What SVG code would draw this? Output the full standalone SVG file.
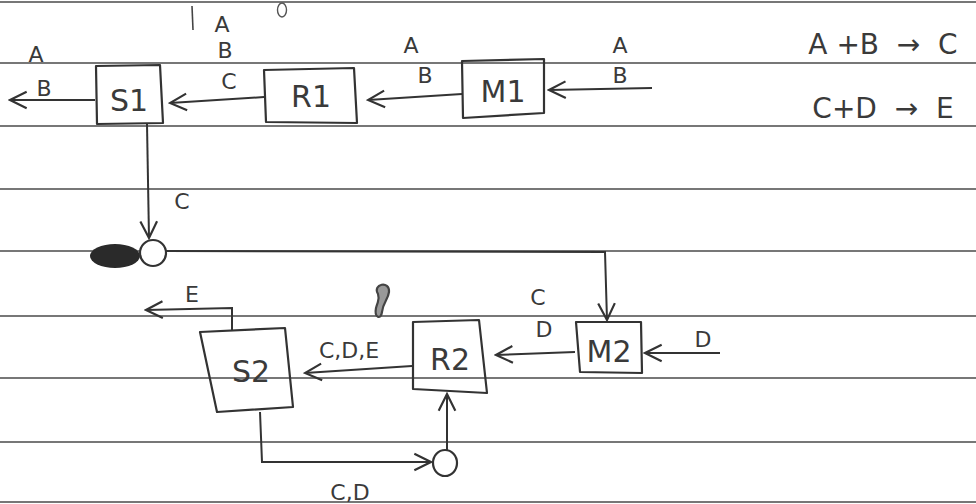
<svg xmlns="http://www.w3.org/2000/svg" width="976" height="504" viewBox="0 0 976 504">
<style>
.paper{stroke:#4a4a4a;stroke-width:1.6;fill:none}
.node{fill:none;stroke:#333;stroke-width:2.2;stroke-linejoin:round}
.edge{fill:none;stroke:#333;stroke-width:2}
.lbl{font-family:"DejaVu Sans","Liberation Sans",sans-serif;fill:#3a3a3a;text-anchor:middle}
.nl{font-size:30px}
.el{font-size:22px}
.eq{font-size:28px;white-space:pre}
</style>
<defs>
<marker id="ah" viewBox="0 0 12 12" refX="11" refY="6" markerWidth="20" markerHeight="20" markerUnits="userSpaceOnUse" orient="auto">
<path d="M1,1 L11,6 L1,11" fill="none" stroke="#333" stroke-width="1.3"/>
</marker>
</defs>
<rect width="976" height="504" fill="#ffffff"/>
<g id="paper">
<line class="paper" x1="0" y1="2" x2="976" y2="2" stroke-width="3"/>
<line class="paper" x1="0" y1="63" x2="976" y2="63"/>
<line class="paper" x1="0" y1="126" x2="976" y2="126" stroke-width="2.2"/>
<line class="paper" x1="0" y1="189" x2="976" y2="189"/>
<line class="paper" x1="0" y1="251" x2="976" y2="251"/>
<line class="paper" x1="0" y1="316" x2="976" y2="316"/>
<line class="paper" x1="0" y1="378" x2="976" y2="378"/>
<line class="paper" x1="0" y1="442" x2="976" y2="442"/>
<line class="paper" x1="0" y1="502" x2="976" y2="502"/>
</g>
<g id="marks">
<path d="M192,6 L193,30" stroke="#444" stroke-width="1.6" fill="none"/>
<ellipse cx="282" cy="10" rx="4.5" ry="7" stroke="#555" stroke-width="1.4" fill="none"/>
<path d="M378,294 C372,284 390,280 389,292 C388,300 383,302 382,312 C381,320 374,318 376,308 C378,300 380,300 378,294 Z" stroke="#444" stroke-width="2.2" fill="#999"/>
<ellipse cx="115" cy="256" rx="25" ry="12" fill="#2a2a2a"/>
</g>
<g id="connectors">
<line class="edge" x1="652" y1="88" x2="549" y2="90" marker-end="url(#ah)"/>
<line class="edge" x1="462" y1="94" x2="368" y2="100" marker-end="url(#ah)"/>
<line class="edge" x1="264" y1="97" x2="170" y2="103" marker-end="url(#ah)"/>
<line class="edge" x1="95" y1="100" x2="10" y2="100" marker-end="url(#ah)"/>
<line class="edge" x1="147" y1="124" x2="149" y2="238" marker-end="url(#ah)"/>
<path class="edge" d="M166,251 L605,252 L607,320" stroke-width="2.8" marker-end="url(#ah)"/>
<line class="edge" x1="720" y1="353" x2="645" y2="353" marker-end="url(#ah)"/>
<line class="edge" x1="575" y1="352" x2="496" y2="355" marker-end="url(#ah)"/>
<line class="edge" x1="412" y1="366" x2="305" y2="373" marker-end="url(#ah)"/>
<path class="edge" d="M232,331 L232,308 L146,310" marker-end="url(#ah)"/>
<path class="edge" d="M260,412 L262,462 L431,462" marker-end="url(#ah)"/>
<line class="edge" x1="447" y1="450" x2="447" y2="394" marker-end="url(#ah)"/>
</g>
<g id="mixer1">
<ellipse cx="153" cy="253" rx="13" ry="13" class="node" style="fill:#fff"/>
</g>
<g id="mixer2">
<ellipse cx="445" cy="463" rx="12" ry="13" class="node" style="fill:#fff"/>
</g>
<g id="S1">
<path class="node" d="M96,66 L160,65 L163,123 L97,124 Z"/>
<text class="lbl nl" x="129" y="111">S1</text>
</g>
<g id="R1">
<path class="node" d="M264,70 L354,68 L357,123 L266,122 Z"/>
<text class="lbl nl" x="311" y="107">R1</text>
</g>
<g id="M1">
<path class="node" d="M462,61 L544,59 L544,113 L463,118 Z"/>
<text class="lbl nl" x="503" y="102">M1</text>
</g>
<g id="M2">
<path class="node" d="M576,322 L641,322 L642,373 L580,372 Z"/>
<text class="lbl nl" x="609" y="362">M2</text>
</g>
<g id="R2">
<path class="node" d="M413,322 L479,320 L487,393 L413,389 Z"/>
<text class="lbl nl" x="450" y="370">R2</text>
</g>
<g id="S2">
<path class="node" d="M200,332 L285,328 L293,407 L217,412 Z"/>
<text class="lbl nl" x="251" y="382">S2</text>
</g>
<g id="labels">
<text class="lbl el" x="36" y="62">A</text>
<text class="lbl el" x="44" y="96">B</text>
<text class="lbl el" x="222" y="32">A</text>
<text class="lbl el" x="225" y="58">B</text>
<text class="lbl el" x="229" y="89">C</text>
<text class="lbl el" x="411" y="53">A</text>
<text class="lbl el" x="425" y="83">B</text>
<text class="lbl el" x="620" y="53">A</text>
<text class="lbl el" x="620" y="83">B</text>
<text class="lbl el" x="182" y="209">C</text>
<text class="lbl el" x="538" y="305">C</text>
<text class="lbl el" x="544" y="337">D</text>
<text class="lbl el" x="703" y="347">D</text>
<text class="lbl el" x="192" y="302">E</text>
<text class="lbl el" x="349" y="358">C,D,E</text>
<text class="lbl el" x="350" y="500">C,D</text>
<text class="lbl eq" x="883" y="54">A +B  →  C</text>
<text class="lbl eq" x="883" y="118">C+D  →  E</text>
</g>
</svg>
